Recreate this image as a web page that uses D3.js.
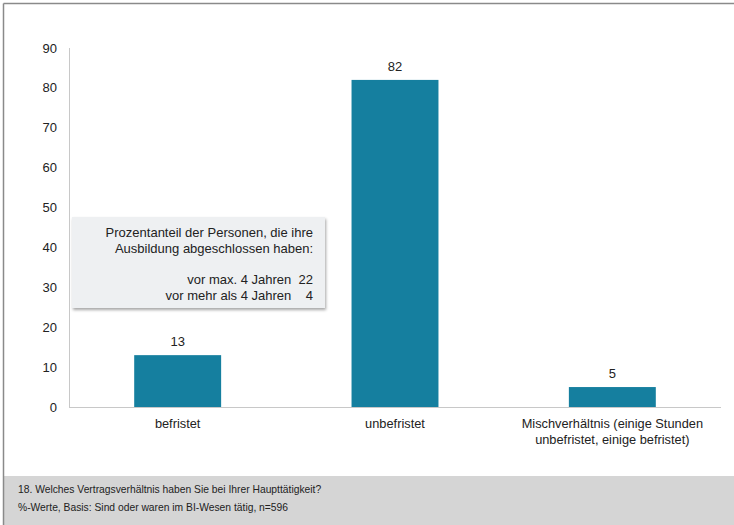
<!DOCTYPE html>
<html>
<head>
<meta charset="utf-8">
<script src="https://cdn.jsdelivr.net/npm/d3@7"></script>
<style>
  html, body { margin: 0; padding: 0; background: #fff; }
  svg { display: block; font-family: "Liberation Sans", Arial, sans-serif; }
</style>
</head>
<body>
<svg id="chart" width="734" height="525"></svg>
<script>
// Contract types and shares in percent
const categories = ["befristet", "unbefristet", "Mischverhältnis (einige Stunden\nunbefristet, einige befristet)"];
const values = [13, 82, 5];
const yTicks = [0, 10, 20, 30, 40, 50, 60, 70, 80, 90];

// Note box text (share of people by time since finishing training)
const noteHeader = ["Prozentanteil der Personen, die ihre", "Ausbildung abgeschlossen haben:"];
const noteRows = ["vor max. 4 Jahren", "vor mehr als 4 Jahren"];
const noteValues = [22, 4];

const footerLines = [
  "18. Welches Vertragsverhältnis haben Sie bei Ihrer Haupttätigkeit?",
  "%-Werte, Basis: Sind oder waren im BI-Wesen tätig, n=596"
];

const svg = d3.select("#chart");
const W = 734, H = 525;

// outer frame lines (left and top)
svg.append("rect").attr("x", 0).attr("y", 0).attr("width", W).attr("height", H).attr("fill", "#fff");

const x = d3.scaleBand().domain(categories).range([69, 721]).paddingInner(0.6).paddingOuter(0.3);
const y = d3.scaleLinear().domain([0, 90]).range([407, 48]);

// y axis line and baseline
svg.append("line").attr("x1", 69.5).attr("x2", 69.5).attr("y1", y(90)).attr("y2", y(0)).attr("stroke", "#c8c8c8");
svg.append("line").attr("x1", 69).attr("x2", 721).attr("y1", y(0) + 0.5).attr("y2", y(0) + 0.5).attr("stroke", "#c8c8c8");

// y tick labels
svg.append("g").selectAll("text").data(yTicks).join("text")
  .attr("x", 57).attr("y", d => y(d)).attr("dy", "0.35em")
  .attr("text-anchor", "end").attr("font-size", 13).attr("fill", "#222")
  .text(d => d);

// bars
svg.append("g").selectAll("rect").data(values).join("rect")
  .attr("x", (d, i) => x(categories[i]))
  .attr("width", x.bandwidth())
  .attr("y", d => y(d))
  .attr("height", d => y(0) - y(d))
  .attr("fill", "#157f9f");

// value labels
svg.append("g").selectAll("text").data(values).join("text")
  .attr("x", (d, i) => x(categories[i]) + x.bandwidth() / 2)
  .attr("y", d => y(d) - 9)
  .attr("text-anchor", "middle").attr("font-size", 13).attr("fill", "#222")
  .text(d => d);

// category labels
const cat = svg.append("g").selectAll("text").data(categories).join("text")
  .attr("x", d => x(d) + x.bandwidth() / 2)
  .attr("y", 428)
  .attr("text-anchor", "middle").attr("font-size", 12.8).attr("fill", "#222");
cat.selectAll("tspan").data(d => d.split("\n")).join("tspan")
  .attr("x", function() { return d3.select(this.parentNode).attr("x"); })
  .attr("dy", (d, i) => i === 0 ? 0 : 16)
  .text(d => d);

// note box with soft shadow
const defs = svg.append("defs");
const f = defs.append("filter").attr("id", "shadow").attr("x", "-10%").attr("y", "-10%").attr("width", "120%").attr("height", "130%");
f.append("feDropShadow").attr("dx", 1).attr("dy", 2).attr("stdDeviation", 1.5).attr("flood-color", "#000").attr("flood-opacity", 0.35);

const box = svg.append("g");
box.append("rect").attr("x", 72).attr("y", 217).attr("width", 253).attr("height", 91)
  .attr("fill", "#eef0f2").attr("filter", "url(#shadow)");
const noteX = 313;
box.selectAll("text.h").data(noteHeader).join("text").attr("class", "h")
  .attr("x", noteX).attr("y", (d, i) => 237 + i * 16)
  .attr("text-anchor", "end").attr("font-size", 13).attr("fill", "#222").text(d => d);
box.selectAll("text.r").data(noteRows).join("text").attr("class", "r")
  .attr("x", noteX).attr("y", (d, i) => 284 + i * 16)
  .attr("text-anchor", "end").attr("font-size", 13).attr("fill", "#222")
  .text((d, i) => d + "\u00a0\u00a0" + (noteValues[i] < 10 ? "\u2007" : "") + noteValues[i]);

// footer
svg.append("rect").attr("x", 4).attr("y", 476).attr("width", W - 4).attr("height", H - 476).attr("fill", "#d5d5d5");
svg.append("g").selectAll("text").data(footerLines).join("text")
  .attr("x", 18).attr("y", (d, i) => 493 + i * 18)
  .attr("font-size", 10.3).attr("fill", "#222").text(d => d);

// frame lines on the left and top edges
svg.append("line").attr("x1", 3.5).attr("x2", 3.5).attr("y1", 3.5).attr("y2", H).attr("stroke", "#8a8a8a").attr("stroke-width", 1.5);
svg.append("line").attr("x1", 3.5).attr("x2", W).attr("y1", 3.5).attr("y2", 3.5).attr("stroke", "#8a8a8a").attr("stroke-width", 1.5);
</script>
</body>
</html>
